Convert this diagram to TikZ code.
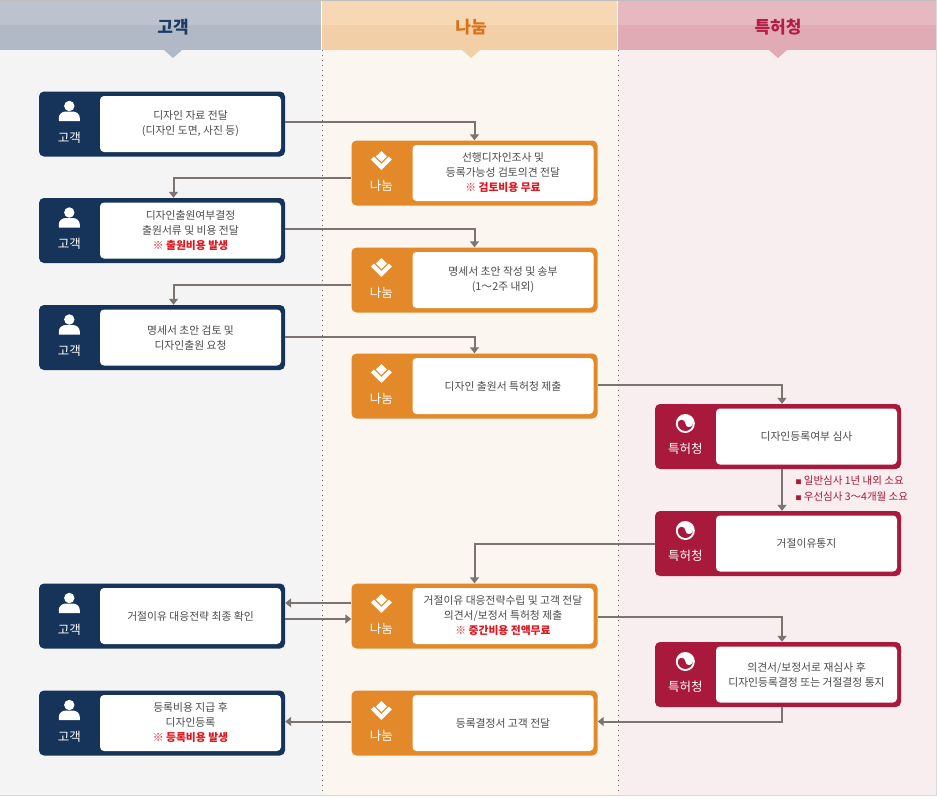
\documentclass[tikz,border=0pt]{standalone}
\usepackage{fontspec}
\setmainfont{Noto Sans CJK KR}
\usetikzlibrary{positioning,arrows.meta}

\definecolor{navy}{HTML}{16335A}
\definecolor{nanum}{HTML}{E3892A}
\definecolor{kipo}{HTML}{A8193B}
\definecolor{txt}{HTML}{4A4A4A}
\definecolor{alert}{HTML}{E0161F}
\definecolor{flowgray}{HTML}{7B7471}
\definecolor{headA}{HTML}{BCC3CE}
\definecolor{headAd}{HTML}{B1B9C6}
\definecolor{headB}{HTML}{F6D8B5}
\definecolor{headBd}{HTML}{F3CFA7}
\definecolor{headC}{HTML}{E6B9C1}
\definecolor{headCd}{HTML}{E1ABB5}
\definecolor{bodyA}{HTML}{F4F4F4}
\definecolor{bodyB}{HTML}{FBF6F0}
\definecolor{bodyC}{HTML}{F8EDEF}
\definecolor{titleA}{HTML}{1D3A62}
\definecolor{titleB}{HTML}{D9731A}
\definecolor{titleC}{HTML}{B51D45}

\begin{document}
\begin{tikzpicture}[x=1pt,y=-1pt,
  every node/.style={font=\fontsize{10.8}{15}\selectfont, text=txt},
  boxframe/.style={rounded corners=5pt, minimum width=246pt, minimum height=65pt, inner sep=0pt},
  card/.style={fill=white, rounded corners=4pt, minimum width=181pt, minimum height=56pt, align=center, inner sep=0pt},
  iconlabel/.style={text=white, font=\fontsize{12.5}{12.5}\selectfont},
  title/.style={font=\fontsize{17}{17}\selectfont\bfseries},
  gobox/.style={boxframe, fill=navy},
  nabox/.style={boxframe, fill=nanum},
  kibox/.style={boxframe, fill=kipo},
  person/.pic={
    \fill[white] (0,-18) circle (5.2pt);
    \fill[white] (-10.5,-3) -- (-10.5,-6) to[out=90,in=180] (-3.5,-12.5) -- (3.5,-12.5) to[out=0,in=90] (10.5,-6) -- (10.5,-3) -- cycle;
    \node[iconlabel] at (0,13.5) {고객};
  },
  chevron/.pic={
    \fill[white] (0,-22) -- (5.5,-16.5) -- (0,-11) -- (-5.5,-16.5) -- cycle;
    \fill[white] (-10.5,-13.5) -- (0,-3) -- (10.5,-13.5) -- (7.5,-16.5) -- (0,-9) -- (-7.5,-16.5) -- cycle;
    \node[iconlabel] at (0,12.5) {나눔};
  },
  taeguk/.pic={
    \fill[white] (0,-13) circle (9.5pt);
    \fill[kipo] (-7.5,-13) arc[start angle=180, end angle=0, radius=3.75pt]
      arc[start angle=180, end angle=360, radius=3.75pt]
      arc[start angle=0, end angle=-180, radius=7.5pt] -- cycle;
    \node[iconlabel] at (0,12.5) {특허청};
  },
  flow/.style={draw=flowgray, line width=2pt, -{Triangle[length=6pt,width=9pt]}}
]
  \useasboundingbox (0,0) rectangle (937,798);
  \fill[white] (0,0) rectangle (937,798);

  \fill[bodyA] (0,50) rectangle (322,795);
  \fill[bodyB] (322,50) rectangle (618,795);
  \fill[bodyC] (618,50) rectangle (937,795);
  \fill[headA] (0,0) rectangle (321,25);
  \fill[headAd] (0,25) rectangle (321,50);
  \fill[headB] (322,0) rectangle (617,25);
  \fill[headBd] (322,25) rectangle (617,50);
  \fill[headC] (618,0) rectangle (937,25);
  \fill[headCd] (618,25) rectangle (937,50);
  \fill[headAd] (164,50) -- (182,50) -- (173,58) -- cycle;
  \fill[headBd] (462,50) -- (480,50) -- (471,58) -- cycle;
  \fill[headCd] (769,50) -- (787,50) -- (778,58) -- cycle;
  \draw[black!25] (0,0.5) -- (937,0.5);
  \draw[black!15] (0,795.5) -- (937,795.5);
  \draw[black!15] (936.5,0) -- (936.5,795.5);
  \draw[black!60, dash pattern=on 1pt off 4pt] (322,50) -- (322,795);
  \draw[black!60, dash pattern=on 1pt off 4pt] (618,50) -- (618,795);

  \node[title, text=titleA] (hgo) at (173,27) {고객};
  \node[title, text=titleB] (hna) at (471,27) {나눔};
  \node[title, text=titleC] (hki) at (778,27) {특허청};

  \node[gobox] (g1) at (162,124) {};
  \node[card, left=4pt of g1.east] (g1t) {디자인 자료 전달\\(디자인 도면, 사진 등)};
  \node[nabox] (n1) at (474.5,173) {};
  \node[card, left=4pt of n1.east] (n1t) {선행디자인조사 및\\등록가능성 검토의견 전달\\{\color{alert}\bfseries ※ 검토비용 무료}};
  \node[gobox] (g2) at (162,230.5) {};
  \node[card, left=4pt of g2.east] (g2t) {디자인출원여부결정\\출원서류 및 비용 전달\\{\color{alert}\bfseries ※ 출원비용 발생}};
  \node[nabox] (n2) at (474.5,280) {};
  \node[card, left=4pt of n2.east] (n2t) {명세서 초안 작성 및 송부\\(1～2주 내외)};
  \node[gobox] (g3) at (162,337.5) {};
  \node[card, left=4pt of g3.east] (g3t) {명세서 초안 검토 및\\디자인출원 요청};
  \node[nabox] (n3) at (474.5,386) {};
  \node[card, left=4pt of n3.east] (n3t) {디자인 출원서 특허청 제출};
  \node[kibox] (t1) at (778,436.5) {};
  \node[card, left=4pt of t1.east] (t1t) {디자인등록여부 심사};
  \node[kibox] (t2) at (778,543.5) {};
  \node[card, left=4pt of t2.east] (t2t) {거절이유통지};
  \node[gobox] (g4) at (162,616) {};
  \node[card, left=4pt of g4.east] (g4t) {거절이유 대응전략 최종 확인};
  \node[nabox] (n4) at (474.5,616) {};
  \node[card, left=4pt of n4.east] (n4t) {거절이유 대응전략수립 및 고객 전달\\의견서/보정서 특허청 제출\\{\color{alert}\bfseries ※ 중간비용 전액무료}};
  \node[kibox] (t3) at (778,674.5) {};
  \node[card, left=4pt of t3.east] (t3t) {의견서/보정서로 재심사 후\\디자인등록결정 또는 거절결정 통지};
  \node[gobox] (g5) at (162,723) {};
  \node[card, left=4pt of g5.east] (g5t) {등록비용 지급 후\\디자인등록\\{\color{alert}\bfseries ※ 등록비용 발생}};
  \node[nabox] (n5) at (474.5,723) {};
  \node[card, left=4pt of n5.east] (n5t) {등록결정서 고객 전달};

  \foreach \b in {g1,g2,g3,g4,g5}
    \pic at ([xshift=30.5pt]\b.west) {person};
  \foreach \b in {n1,n2,n3,n4,n5}
    \pic at ([xshift=30pt]\b.west) {chevron};
  \foreach \b in {t1,t2,t3}
    \pic at ([xshift=30.5pt]\b.west) {taeguk};

  \node[align=left, anchor=west, text=kipo, font=\fontsize{10.5}{16}\selectfont] (memo) at (792,489)
    {{\fontsize{6}{6}\selectfont ■}\ 일반심사 1년 내외 소요\\{\fontsize{6}{6}\selectfont ■}\ 우선심사 3～4개월 소요};

  \draw[flow] ([yshift=2pt]g1.east) -| (n1.north);
  \draw[flow] ([yshift=-5pt]n1.west) -| ([xshift=11.5pt]g2.north);
  \draw[flow] ([yshift=2pt]g2.east) -| (n2.north);
  \draw[flow] ([yshift=-5pt]n2.west) -| ([xshift=11.5pt]g3.north);
  \draw[flow] ([yshift=1pt]g3.east) -| (n3.north);
  \draw[flow] ([yshift=1pt]n3.east) -| ([xshift=4pt]t1.north);
  \draw[flow] ([xshift=4pt]t1.south) -- ([xshift=4pt]t2.north);
  \draw[flow] (t2.west) -| (n4.north);
  \draw[flow] ([yshift=13pt]n4.west) -- ([yshift=13pt]g4.east);
  \draw[flow] ([yshift=-3pt]g4.east) -- ([yshift=-3pt]n4.west);
  \draw[flow] ([yshift=-1pt]n4.east) -| ([xshift=4pt]t3.north);
  \draw[flow] ([xshift=4pt]t3.south) |- ([yshift=1.5pt]n5.east);
  \draw[flow] ([yshift=1.5pt]n5.west) -- ([yshift=1.5pt]g5.east);
\end{tikzpicture}
\end{document}
